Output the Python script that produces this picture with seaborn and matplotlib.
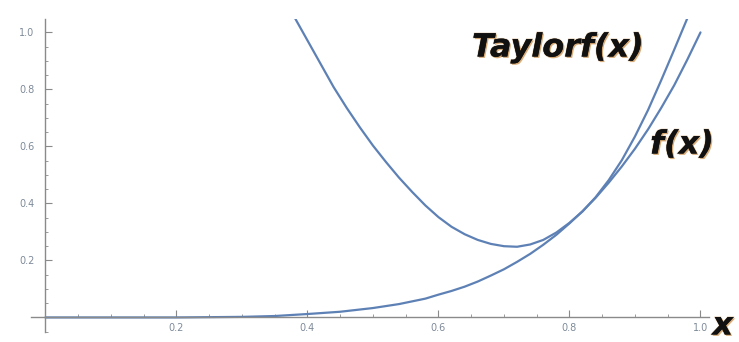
import numpy as np
import pandas as pd
import matplotlib
matplotlib.use("Agg")
import matplotlib.pyplot as plt
import matplotlib.patheffects as pe
from matplotlib.ticker import MultipleLocator, FixedLocator
import seaborn as sns

# ---- data ----
f_x = [0.0, 0.1, 0.2, 0.3, 0.35, 0.4, 0.45, 0.5, 0.54, 0.58, 0.6, 0.62, 0.64, 0.66,
       0.68, 0.7, 0.72, 0.74, 0.76, 0.78, 0.8, 0.82, 0.84, 0.86, 0.88, 0.9, 0.92,
       0.94, 0.96, 0.98, 1.0]
f_y = [0.0, 0.0, 0.0, 0.002, 0.005, 0.012, 0.02, 0.033, 0.047, 0.066, 0.08, 0.093,
       0.108, 0.126, 0.147, 0.169, 0.195, 0.223, 0.255, 0.29, 0.33, 0.373, 0.42,
       0.473, 0.53, 0.592, 0.66, 0.735, 0.815, 0.905, 1.0]

taylor_x = [0.381, 0.40, 0.42, 0.44, 0.46, 0.48, 0.50, 0.52, 0.54, 0.56, 0.58, 0.60,
            0.62, 0.64, 0.66, 0.68, 0.70, 0.72, 0.74, 0.76, 0.78, 0.80, 0.82, 0.84,
            0.86, 0.88, 0.90, 0.92, 0.94, 0.96, 0.98]
taylor_y = [1.05, 0.972, 0.89, 0.808, 0.735, 0.667, 0.603, 0.545, 0.49, 0.44, 0.393,
            0.352, 0.318, 0.292, 0.272, 0.258, 0.25, 0.248, 0.256, 0.272, 0.298,
            0.332, 0.372, 0.422, 0.482, 0.552, 0.635, 0.728, 0.832, 0.94, 1.05]

x_ticks = [0.2, 0.4, 0.6, 0.8, 1.0]
y_ticks = [0.2, 0.4, 0.6, 0.8, 1.0]
x_tick_labels = ["0.2", "0.4", "0.6", "0.8", "1.0"]
y_tick_labels = ["0.2", "0.4", "0.6", "0.8", "1.0"]

df = pd.concat([
    pd.DataFrame({"x": f_x, "y": f_y, "curve": "f"}),
    pd.DataFrame({"x": taylor_x, "y": taylor_y, "curve": "taylor"}),
])

sns.set_style("white")
plt.rcParams["font.family"] = ["DejaVu Sans"]

fig = plt.figure(figsize=(7.39, 3.42), dpi=100)
ax = fig.add_axes([31 / 739, (342 - 331.7) / 342, 678 / 739, 312.4 / 342])

line_color = "#5E81B5"
sns.lineplot(data=df, x="x", y="y", hue="curve", units="curve", estimator=None,
             sort=False, palette=[line_color, line_color], linewidth=1.6,
             legend=False, ax=ax)

ax.set_xlim(-0.022, 1.013)
ax.set_ylim(-0.05, 1.046)

axis_gray = "#8a8a8a"
for s in ["top", "right"]:
    ax.spines[s].set_visible(False)
ax.spines["left"].set_position(("data", 0))
ax.spines["bottom"].set_position(("data", 0))
ax.spines["left"].set_color(axis_gray)
ax.spines["bottom"].set_color(axis_gray)
ax.spines["left"].set_linewidth(1.0)
ax.spines["bottom"].set_linewidth(1.0)

ax.xaxis.set_major_locator(FixedLocator(x_ticks))
ax.yaxis.set_major_locator(FixedLocator(y_ticks))
ax.set_xticklabels(x_tick_labels)
ax.set_yticklabels(y_tick_labels)
ax.xaxis.set_minor_locator(MultipleLocator(0.05))
ax.yaxis.set_minor_locator(MultipleLocator(0.05))
ax.tick_params(axis="both", which="major", direction="in", length=5, width=0.8,
               color=axis_gray, labelsize=7, labelcolor="#7f8a99")
ax.tick_params(axis="both", which="minor", direction="in", length=2.5, width=0.6,
               color=axis_gray)
ax.tick_params(axis="y", which="major", pad=8)
ax.tick_params(axis="x", which="major", pad=4)
ax.tick_params(bottom=True, left=True, which="both")
ax.set_xlabel("")
ax.set_ylabel("")
ax.grid(False)

effects = [pe.SimplePatchShadow(offset=(1.0, -1.0), shadow_rgbFace="#c07a28", alpha=0.6),
           pe.withStroke(linewidth=1.0, foreground="#b88040", alpha=0.35),
           pe.Normal()]
txt_kw = dict(fontsize=23, fontweight="bold", style="italic", color="#111111",
              path_effects=effects)
fig.text(558 / 739, 1 - 48 / 342, "Taylorf(x)", ha="center", va="center", **txt_kw)
fig.text(682 / 739, 1 - 145 / 342, "f(x)", ha="center", va="center", **txt_kw)
fig.text(733 / 739, 1 - 326 / 342, "x", ha="right", va="center", **txt_kw)

fig.savefig("out.png", dpi=100)
